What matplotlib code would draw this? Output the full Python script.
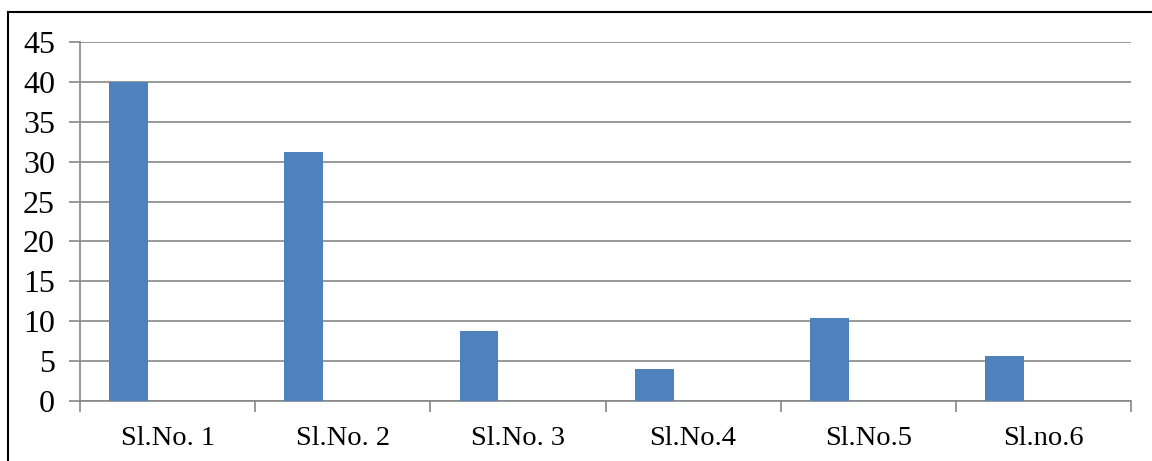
import numpy as np
import matplotlib
matplotlib.use("Agg")
import matplotlib.pyplot as plt
from matplotlib.lines import Line2D

categories = ["Sl.No. 1", "Sl.No. 2", "Sl.No. 3", "Sl.No.4", "Sl.No.5", "Sl.no.6"]
values = [40, 31.2, 8.8, 4.0, 10.4, 5.6]
yticks = [0, 5, 10, 15, 20, 25, 30, 35, 40, 45]

plt.rcParams['font.family'] = ['Liberation Serif', 'DejaVu Serif']

W, H = 1152, 461
fig = plt.figure(figsize=(W / 100, H / 100), dpi=100)
ax = fig.add_axes([80 / W, 1 - 401 / H, (1131 - 80) / W, (401 - 42) / H])

grid_col = "#878787"
bar_col = "#4F81BD"

# each category slot holds three series slots with a 150% gap; only the first is filled
slot = 1 / 4.5
idx = np.arange(len(categories))
ax.bar(idx + 0.75 * slot, values, width=slot, align='edge', color=bar_col, zorder=3)

ax.set_xlim(0, len(categories))
ax.set_ylim(0, 45)
ax.set_yticks(yticks)
ax.set_yticklabels([str(t) for t in yticks])
ax.yaxis.grid(True, color=grid_col, linewidth=1.2, zorder=0)

ax.set_xticks(np.arange(len(categories) + 1))
ax.set_xticklabels([])
ax.set_xticks(idx + 0.5, minor=True)
ax.set_xticklabels(categories, minor=True)
ax.tick_params(axis='x', which='minor', length=0, pad=18, labelsize=20.5)
ax.tick_params(axis='x', which='major', length=8, width=1.2, color=grid_col, direction='out')
ax.tick_params(axis='y', length=8, width=1.2, color=grid_col, pad=10, labelsize=23)

for s in ["top", "right"]:
    ax.spines[s].set_visible(False)
for s in ["left", "bottom"]:
    ax.spines[s].set_color(grid_col)
    ax.spines[s].set_linewidth(1.2)

# outer chart frame
fig.add_artist(Line2D([8 / W, 8 / W], [0, 1 - 12 / H], transform=fig.transFigure, color="black", linewidth=1.5))
fig.add_artist(Line2D([8 / W, 1], [1 - 12 / H, 1 - 12 / H], transform=fig.transFigure, color="black", linewidth=1.5))

fig.savefig("out.png", dpi=100, facecolor="white")
